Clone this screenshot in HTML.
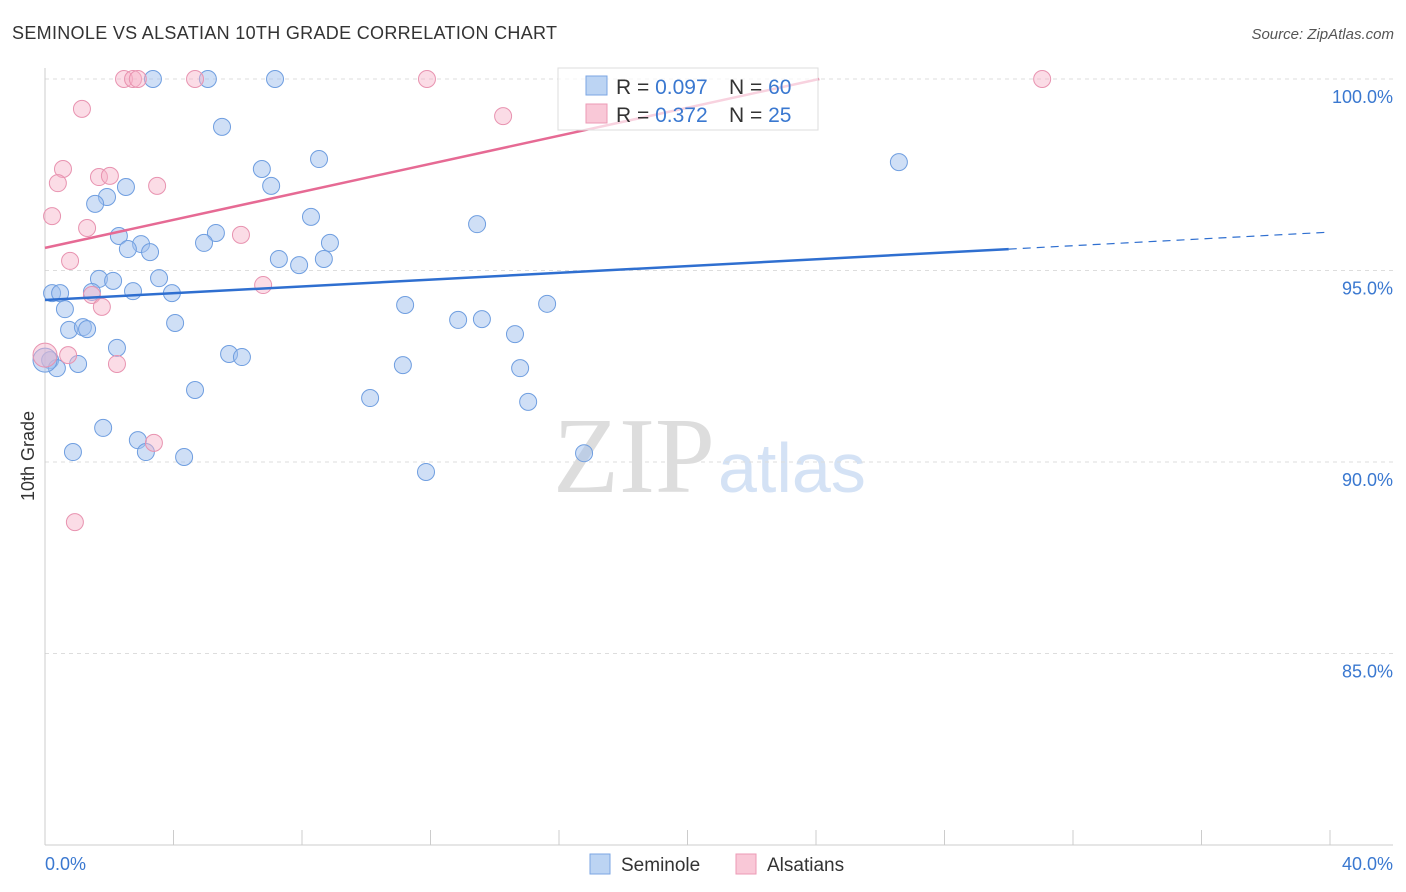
<!DOCTYPE html>
<html><head><meta charset="utf-8"><style>
body{margin:0;background:#fff;font-family:"Liberation Sans",sans-serif;}
svg{display:block}
</style></head><body>
<svg id="chart" width="1406" height="892">
<text x="12" y="39" font-size="18" fill="#333" textLength="545">SEMINOLE VS ALSATIAN 10TH GRADE CORRELATION CHART</text>
<text x="1394" y="39" font-size="15" fill="#555" font-style="italic" text-anchor="end">Source: ZipAtlas.com</text>
<text x="553" y="492" font-size="108" fill="#ddd" font-family="Liberation Serif,serif">ZIP</text>
<text x="718" y="492" font-size="70" fill="#d4e2f5">atlas</text>
<text transform="translate(34,456) rotate(-90)" font-size="18" fill="#333" text-anchor="middle">10th Grade</text>
<g id="grid"></g><g id="marks"></g>
<g>
<rect x="558" y="68" width="260" height="62" fill="rgba(255,255,255,0.7)" stroke="#ddd"/>
<rect x="586" y="76" width="21" height="19" fill="#bcd4f3" stroke="#7ba6e3"/>
<rect x="586" y="104" width="21" height="19" fill="#f9c8d7" stroke="#ec9ab5"/>
<text x="616" y="94" font-size="21" fill="#333">R = <tspan fill="#3a78d0">0.097</tspan><tspan x="729">N = </tspan><tspan fill="#3a78d0">60</tspan></text>
<text x="616" y="122" font-size="21" fill="#333">R = <tspan fill="#3a78d0"> 0.372</tspan><tspan x="729">N = </tspan><tspan fill="#3a78d0"> 25</tspan></text>
</g>
<rect x="590" y="854" width="20" height="20" fill="#bcd4f3" stroke="#7ba6e3"/>
<text x="621" y="871" font-size="19" fill="#333">Seminole</text>
<rect x="736" y="854" width="20" height="20" fill="#f9c8d7" stroke="#ec9ab5"/>
<text x="767" y="871" font-size="19" fill="#333">Alsatians</text>
</svg>
<script>
const blueX=[3.36,5.07,7.16,5.51,8.53,6.75,7.04,2.52,1.93,1.56,8.28,13.45,2.30,5.32,2.99,4.95,8.87,2.58,3.27,7.28,8.68,7.91,1.68,2.12,3.55,0.22,0.47,1.46,2.74,3.95,11.21,15.63,0.62,4.05,12.86,13.60,0.75,1.18,1.31,14.63,2.24,5.73,6.13,0.16,0.37,1.03,11.14,14.79,4.67,10.12,15.04,1.81,2.89,0.87,3.14,4.33,16.78,11.86,26.58,0];
const blueY=[100,100,100,98.75,97.91,97.65,97.21,97.18,96.92,96.74,96.40,96.21,95.90,95.98,95.69,95.72,95.72,95.56,95.48,95.30,95.30,95.14,94.78,94.73,94.80,94.41,94.41,94.44,94.46,94.41,94.10,94.13,93.99,93.63,93.71,93.73,93.45,93.52,93.47,93.34,92.98,92.82,92.74,92.66,92.45,92.56,92.53,92.45,91.88,91.67,91.57,90.89,90.57,90.26,90.26,90.13,90.23,89.74,97.83,92.66];
const pinkX=[2.46,2.74,2.89,4.67,11.89,31.04,1.15,14.26,0.56,0.40,1.68,2.02,3.49,0.22,1.31,6.10,0.78,6.79,1.46,1.77,0.72,2.24,3.39,0.93,0];
const pinkY=[100,100,100,100,100,100,99.22,99.03,97.65,97.28,97.44,97.47,97.21,96.42,96.11,95.93,95.25,94.62,94.36,94.05,92.79,92.56,90.50,88.43,92.79];
const blueTrend=[94.23,0.0443]; // intercept, slope
const pinkTrend=[95.59,0.183];
const yTicks=[100,95,90,85];
const xTickLabels=["0.0%","40.0%"];
const NS="http://www.w3.org/2000/svg";
const sx=v=>45+v*32.125, sy=v=>79+(100-v)*38.3;
const grid=document.getElementById('grid'), marks=document.getElementById('marks');
function mk(p,tag,at){const e=document.createElementNS(NS,tag);for(const k in at)e.setAttribute(k,at[k]);p.appendChild(e);return e;}
yTicks.forEach(t=>{
 const l=mk(grid,'line',{x1:45,x2:1393,y1:sy(t),y2:sy(t),stroke:'#ddd','stroke-dasharray':'4,4'});
 
 
 const tx=mk(grid,'text',{x:1393,y:sy(t)+24,'font-size':18,fill:'#3a78d0','text-anchor':'end'});
 tx.textContent=t.toFixed(1)+'%';
 
 
});
mk(grid,'line',{x1:45,x2:45,y1:68,y2:845,stroke:'#ccc'});
mk(grid,'line',{x1:45,x2:1393,y1:845,y2:845,stroke:'#ccc'});
for(let i=0;i<=10;i++){const x=sx(i*4);const t=mk(grid,'line',{x1:x,x2:x,y1:830,y2:845,stroke:'#ccc'});
 
 }
const xl0=mk(grid,'text',{x:45,y:870,'font-size':18,fill:'#3a78d0'});xl0.textContent=xTickLabels[0];


const xl1=mk(grid,'text',{x:1393,y:870,'font-size':18,fill:'#3a78d0','text-anchor':'end'});xl1.textContent=xTickLabels[1];


blueX.forEach((x,i)=>{const c=mk(marks,'circle',{cx:sx(x),cy:sy(blueY[i]),r:i==blueX.length-1?12:8.5,fill:'rgba(160,192,238,0.5)',stroke:'#6f9ee0','stroke-width':1});
 
 });
pinkX.forEach((x,i)=>{const c=mk(marks,'circle',{cx:sx(x),cy:sy(pinkY[i]),r:i==pinkX.length-1?12:8.5,fill:'rgba(246,178,200,0.45)',stroke:'#e893b0','stroke-width':1});
 
 });
const bl=mk(marks,'line',{x1:sx(0),y1:sy(blueTrend[0]),x2:sx(30),y2:sy(blueTrend[0]+blueTrend[1]*30),stroke:'#2f6fd0','stroke-width':2.5});


const bd=mk(marks,'line',{x1:sx(30),y1:sy(blueTrend[0]+blueTrend[1]*30),x2:sx(40),y2:sy(blueTrend[0]+blueTrend[1]*40),stroke:'#2f6fd0','stroke-width':1.2,'stroke-dasharray':'8,6'});


const pl=mk(marks,'line',{x1:sx(0),y1:sy(pinkTrend[0]),x2:sx(24.1),y2:sy(pinkTrend[0]+pinkTrend[1]*24.1),stroke:'#e66a94','stroke-width':2.5});


</script>
</body></html>
